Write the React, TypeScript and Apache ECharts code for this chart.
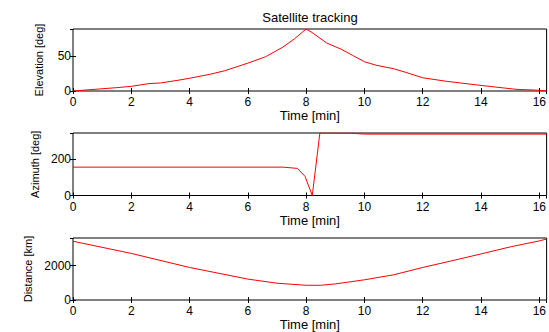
import React, { useEffect, useRef } from "react";
import * as echarts from "echarts";

const TMAX = 16.25;
const xTicks = [0, 2, 4, 6, 8, 10, 12, 14, 16];

const elevT = [0, 1.5, 2, 2.6, 3, 3.6, 4, 4.7, 5.2, 6, 6.6, 7.2, 7.6, 8, 8.2, 8.7, 9.2, 9.6, 10, 10.4, 11, 11.4, 12, 12.8, 14, 15.2, 16, 16.25];
const elevV = [0, 4.8, 6.7, 10.6, 11.5, 15.4, 18.3, 24, 29, 40, 49, 63, 75, 89, 84, 69, 60, 51, 42, 37, 32, 27, 19, 14, 8, 2.4, 1, 0];

const azT = [0, 7.2, 7.7, 7.96, 8.21, 8.47, 9.5, 10, 16.25];
const azV = [157, 157, 150, 106, 0, 346, 345, 340, 340];

const distT = [0, 2, 4, 6, 7, 8, 8.5, 9, 10, 11, 12, 13, 14, 15, 16, 16.25];
const distV = [3430, 2720, 1900, 1220, 980, 860, 860, 940, 1180, 1470, 1900, 2290, 2690, 3100, 3450, 3560];

const yNames = ["Elevation [deg]", "Azimuth [deg]", "Distance [km]"];
const yMax = [89, 346, 3620];
const yInterval = [50, 200, 2000];
const title = "Satellite tracking";
const xName = "Time [min]";

const FONT = "'Liberation Sans', Arial, sans-serif";

export default function App() {
  const ref = useRef<HTMLDivElement>(null);
  useEffect(() => {
    if (!ref.current) return;
    const chart = echarts.init(ref.current, undefined, { renderer: "svg" });
    const grids = [
      { left: 73, top: 29, width: 474, height: 62 },
      { left: 73, top: 133, width: 474, height: 62.5 },
      { left: 73, top: 238, width: 474, height: 62.5 },
    ].map((g) => ({ ...g, show: true, borderColor: "#000", borderWidth: 1, backgroundColor: "#fff" }));

    const tick = { show: true, inside: true, length: 3, lineStyle: { color: "#000", width: 1 } };
    const xAxes: any[] = [];
    const yAxes: any[] = [];
    for (let i = 0; i < 3; i++) {
      xAxes.push({
        type: "value",
        gridIndex: i,
        position: "bottom",
        min: 0,
        max: TMAX,
        interval: 2,
        name: xName,
        nameLocation: "middle",
        nameGap: 18,
        nameTextStyle: { color: "#000", fontSize: 13, fontFamily: FONT },
        axisLine: { show: false },
        axisTick: tick,
        splitLine: { show: false },
        axisLabel: {
          color: "#000",
          fontSize: 12,
          fontFamily: FONT,
          margin: 5,
          showMaxLabel: false,
          formatter: (v: number) => (xTicks.includes(v) ? String(v) : ""),
        },
      });
      xAxes.push({
        type: "value",
        gridIndex: i,
        position: "top",
        min: 0,
        max: TMAX,
        interval: 2,
        axisLine: { show: false },
        axisTick: tick,
        splitLine: { show: false },
        axisLabel: { show: false },
      });
      yAxes.push({
        type: "value",
        gridIndex: i,
        position: "left",
        min: 0,
        max: yMax[i],
        interval: yInterval[i],
        name: yNames[i],
        nameLocation: "middle",
        nameRotate: 90,
        nameGap: 29,
        nameTextStyle: { color: "#000", fontSize: 11, fontFamily: FONT },
        axisLine: { show: false },
        axisTick: tick,
        splitLine: { show: false },
        axisLabel: {
          color: "#000",
          fontSize: 12,
          fontFamily: FONT,
          margin: 2,
          showMaxLabel: false,
          formatter: (v: number) => String(v),
        },
      });
      yAxes.push({
        type: "value",
        gridIndex: i,
        position: "right",
        min: 0,
        max: yMax[i],
        interval: yInterval[i],
        axisLine: { show: false },
        axisTick: tick,
        splitLine: { show: false },
        axisLabel: { show: false },
      });
    }
    const mk = (t: number[], v: number[], i: number) => ({
      type: "line",
      xAxisIndex: i * 2,
      yAxisIndex: i * 2,
      data: t.map((x, k) => [x, v[k]]),
      symbol: "none",
      lineStyle: { color: "#ff0000", width: 1 },
    });
    chart.setOption({
      animation: false,
      backgroundColor: "#fff",
      grid: grids,
      xAxis: xAxes,
      yAxis: yAxes,
      series: [mk(elevT, elevV, 0), mk(azT, azV, 1), mk(distT, distV, 2)],
      graphic: [
        {
          type: "text",
          x: 310,
          y: 17.5,
          style: {
            text: title,
            fill: "#000",
            font: `13px ${FONT}`,
            textAlign: "center",
            textVerticalAlign: "middle",
          },
        },
      ],
    });
    return () => chart.dispose();
  }, []);
  return <div ref={ref} style={{ position: "fixed", left: 0, top: 0, width: 549, height: 332 }} />;
}
